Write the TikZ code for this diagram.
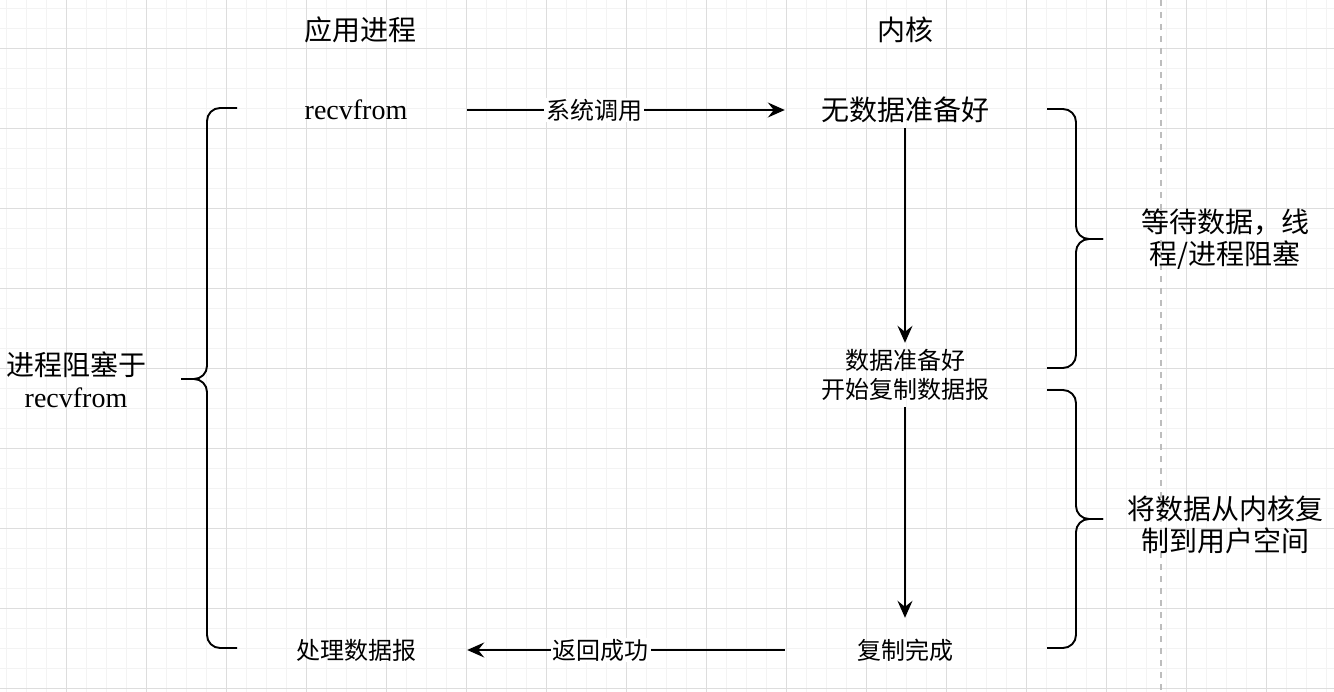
\documentclass[tikz,border=0pt]{standalone}
\usepackage{fontspec}
\setmainfont{Liberation Serif}
\newfontfamily\cjk{Noto Sans CJK SC}
\usetikzlibrary{arrows.meta}
\definecolor{gridminor}{HTML}{F3F3F3}
\definecolor{gridmajor}{HTML}{DDDDDD}
\definecolor{splitgray}{HTML}{BDBDBD}

\begin{document}
\begin{tikzpicture}[
 x=1pt, y=-1pt,
 title/.style={font=\cjk\fontsize{28}{32}\selectfont},
 appbox/.style={minimum width=222pt, minimum height=36pt, inner sep=0pt, align=center},
 kernbox/.style={minimum width=240pt, minimum height=36pt, inner sep=0pt, align=center},
 big/.style={font=\fontsize{28}{31}\selectfont},
 small/.style={font=\cjk\fontsize{24}{29}\selectfont},
 note/.style={font=\fontsize{28}{32}\selectfont, align=center},
 arrow/.style={-{Stealth[length=17pt, width=15pt, inset=6pt]}, line width=1.9pt},
 rate/.style={font=\cjk\fontsize{24}{28}\selectfont, fill=white, inner xsep=2pt, inner ysep=1pt},
 brace/.style={line width=1.9pt, rounded corners=13pt}
]
\useasboundingbox (0,0) rectangle (1334,692);

% Background grid
\foreach \x in {6.7,26.7,...,1334} \draw[gridminor, line width=0.8pt] (\x,0) -- (\x,692);
\foreach \y in {8.3,28.3,...,692} \draw[gridminor, line width=0.8pt] (0,\y) -- (1334,\y);
\foreach \x in {66.7,146.7,...,1334} \draw[gridmajor, line width=0.8pt] (\x,0) -- (\x,692);
\foreach \y in {48.3,128.3,...,692} \draw[gridmajor, line width=0.8pt] (0,\y) -- (1334,\y);

% Split line
\draw[splitgray, line width=1.8pt, dash pattern=on 6pt off 6pt] (1161,0) -- (1161,692);

% Column titles
\node[title] (app) at (360,30) {应用进程};
\node[title] (kern) at (905,30) {内核};

% Application side
\node[appbox, big] (recv) at (356,110) {recvfrom};
\node[appbox, small] (handle) at (356,650) {处理数据报};

% Kernel side
\node[kernbox, title] (nodata) at (905,110) {无数据准备好};
\node[kernbox, small, minimum height=64pt] (ready) at (905,375) {数据准备好\\开始复制数据报};
\node[kernbox, small, minimum height=64pt] (done) at (905,650) {复制完成};

% Calls and returns
\draw[arrow] (recv.east) -- (nodata.west) node[pos=0.4, rate] {系统调用};
\draw[arrow] (done.west) -- (handle.east) node[pos=0.58, rate] {返回成功};

% Kernel progression
\draw[arrow] (nodata.south) -- (ready.north);
\draw[arrow] (ready.south) -- (done.north);

% Braces
\draw[brace] (237,108) -- (207,108) -- (207,379) -- (181,379);
\draw[brace] (181,379) -- (207,379) -- (207,648) -- (237,648);
\draw[brace] (1047,109) -- (1076,109) -- (1076,239) -- (1103,239);
\draw[brace] (1103,239) -- (1076,239) -- (1076,368) -- (1047,368);
\draw[brace] (1047,390) -- (1076,390) -- (1076,519) -- (1103,519);
\draw[brace] (1103,519) -- (1076,519) -- (1076,648) -- (1047,648);

% Notes
\node[note] (blocked) at (76,380) {{\cjk 进程阻塞于}\\recvfrom};
\node[note, font=\cjk\fontsize{28}{32}\selectfont] (waiting) at (1225,239) {等待数据，线\\程/进程阻塞};
\node[note, font=\cjk\fontsize{28}{32}\selectfont] (copying) at (1225,525) {将数据从内核复\\制到用户空间};
\end{tikzpicture}
\end{document}
